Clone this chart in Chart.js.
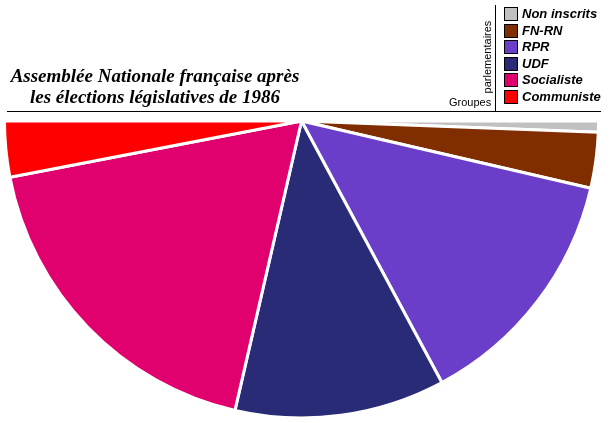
<!DOCTYPE html>
<html><head><meta charset="utf-8">
<script src="https://cdn.jsdelivr.net/npm/chart.js@4/dist/chart.umd.min.js"></script>
<style>
html,body{margin:0;padding:0;background:#fff;width:610px;height:423px;overflow:hidden;}
#wrap{position:relative;width:610px;height:423px;}
canvas{position:absolute;left:0;top:0;}
#title{position:absolute;left:0;top:65px;width:310px;text-align:center;font-family:"Liberation Serif","Times New Roman",serif;font-weight:bold;font-style:italic;font-size:19px;line-height:21px;color:#000;}
#hline{position:absolute;left:7px;top:111px;width:594px;height:0;border-top:1.5px solid #000;}
#vline{position:absolute;left:495px;top:5px;width:0;height:107px;border-left:1.5px solid #000;}
#groupes{position:absolute;left:449px;top:96px;font-family:"Liberation Sans",Arial,sans-serif;font-size:11px;color:#000;}
#parl{position:absolute;left:487px;top:57px;transform:translate(-50%,-50%) rotate(-90deg);font-family:"Liberation Sans",Arial,sans-serif;font-size:11px;color:#000;white-space:nowrap;}
.leg{position:absolute;left:504px;height:15px;font-family:"Liberation Sans",Arial,sans-serif;font-weight:bold;font-style:italic;font-size:13px;color:#000;white-space:nowrap;}
.leg span.box{position:absolute;left:0;top:0;width:12px;height:12px;border:1px solid #000;}
.leg span.t{position:absolute;left:18px;top:-1px;}
</style></head>
<body><div id="wrap">
<canvas id="c" width="610" height="423"></canvas>
<div id="title">Assemblée Nationale française après<br>les élections législatives de 1986</div>
<div id="hline"></div>
<div id="vline"></div>
<div id="groupes">Groupes</div>
<div id="parl">parlementaires</div>
<div id="legend"></div>
</div>
<script>
const groups = ["Non inscrits", "FN-RN", "RPR", "UDF", "Socialiste", "Communiste"];
const seats = [7, 35, 156, 132, 212, 35];
const colors = ["#c0c0c0", "#802e00", "#6a3ec8", "#292b76", "#e0006e", "#ff0000"];

const legend = document.getElementById('legend');
groups.forEach((g, i) => {
  const d = document.createElement('div');
  d.className = 'leg';
  d.style.top = (7 + i * 16.6) + 'px';
  d.innerHTML = '<span class="box" style="background:' + colors[i] + '"></span><span class="t">' + g + '</span>';
  legend.appendChild(d);
});

new Chart(document.getElementById('c'), {
  type: 'pie',
  data: {
    labels: groups,
    datasets: [{
      data: seats,
      backgroundColor: colors,
      borderColor: '#ffffff',
      borderWidth: 3
    }]
  },
  options: {
    responsive: false,
    animation: false,
    devicePixelRatio: 1,
    rotation: 90,
    circumference: 180,
    layout: { padding: { left: 3, right: 10, top: 119.5, bottom: 3.5 } },
    plugins: {
      legend: { display: false },
      title: { display: false },
      tooltip: { enabled: false }
    }
  }
});
</script>
</body></html>
